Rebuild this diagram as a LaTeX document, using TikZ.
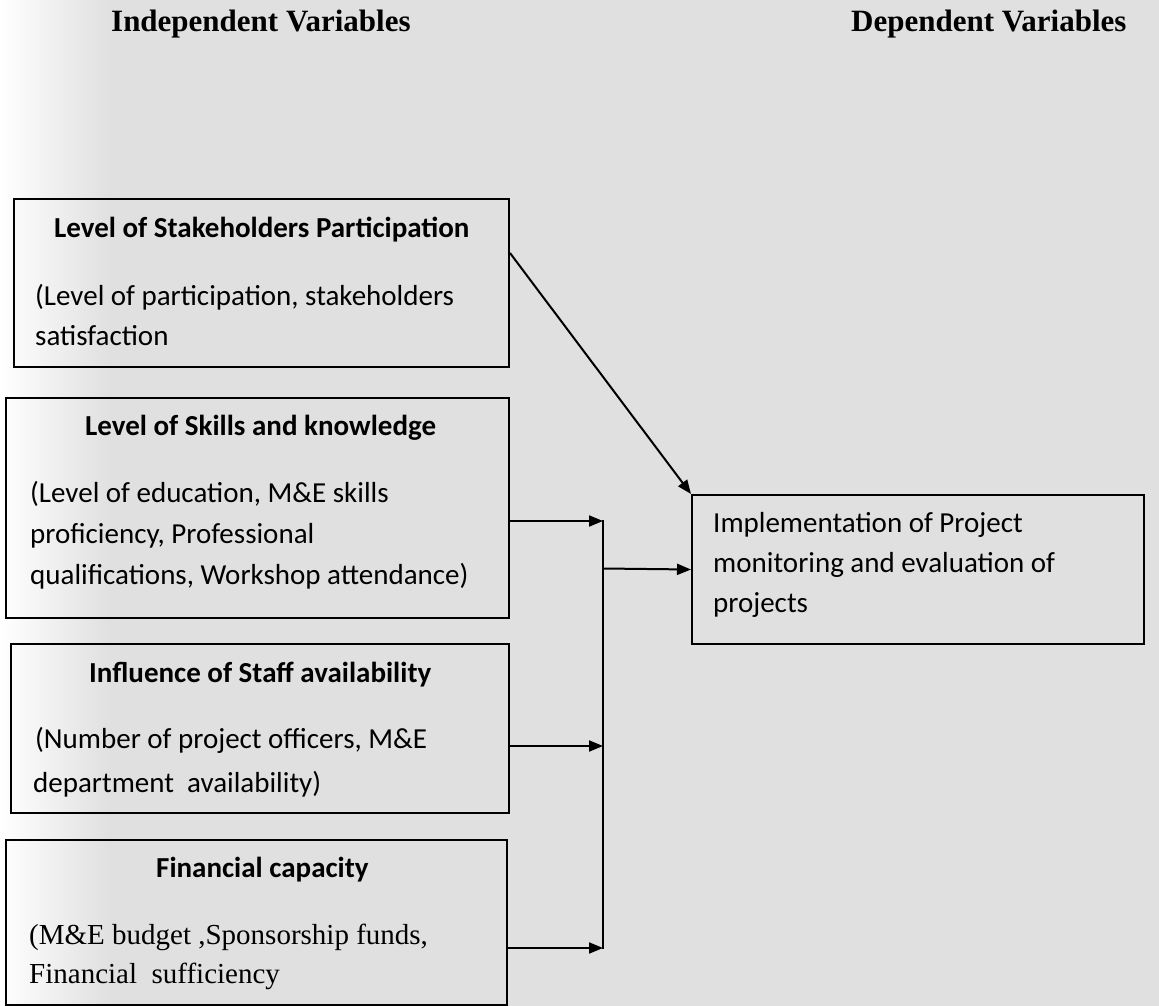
\documentclass[tikz,border=0pt]{standalone}
\usepackage{fontspec}
\setmainfont{Liberation Serif}
\newfontfamily\calib{Carlito}
\usetikzlibrary{arrows.meta,calc}
\definecolor{paper}{RGB}{224,224,224}
\tikzset{
  boxnode/.style={draw=black, line width=2pt, inner sep=0pt, anchor=north west},
  txt/.style={anchor=base west, inner sep=0pt, font=\calib\fontsize{29}{35}\selectfont},
  ttl/.style={anchor=base west, inner sep=0pt, font=\calib\bfseries\fontsize{29}{35}\selectfont},
  serif/.style={anchor=base west, inner sep=0pt, font=\rmfamily\fontsize{29}{35}\selectfont},
  head/.style={anchor=base west, inner sep=0pt, font=\rmfamily\bfseries\fontsize{31}{36}\selectfont},
  conn/.style={line width=2pt, -{Triangle[length=14pt,width=11pt]}},
  plain/.style={line width=2pt}
}
\begin{document}
\begin{tikzpicture}[x=1pt,y=-1pt]
\useasboundingbox (0,0) rectangle (1159,1006);
\fill[paper] (0,0) rectangle (1159,1006);
\shade[left color=white, right color=paper] (0,0) rectangle (110,1006);

% headings
\node[head] (h1) at (111,32) {Independent Variables};
\node[head] (h2) at (851,32) {Dependent Variables};

% boxes
\node[boxnode, minimum width=495.5pt, minimum height=168pt] (b1) at (12.5,198) {};
\node[boxnode, minimum width=503pt, minimum height=220pt] (b2) at (5,397) {};
\node[boxnode, minimum width=498pt, minimum height=169pt] (b3) at (10,643) {};
\node[boxnode, minimum width=500.6pt, minimum height=165pt] (b4) at (5.4,839) {};
\node[boxnode, minimum width=452pt, minimum height=149pt] (t) at (691,494) {};

% box 1 text
\node[ttl] (b1a) at (54,237) {Level of Stakeholders Participation};
\node[txt] (b1b) at (35,305) {(Level of participation, stakeholders};
\node[txt] (b1c) at (35,345) {satisfaction};

% box 2 text
\node[ttl] (b2a) at (85,435) {Level of Skills and knowledge};
\node[txt] (b2b) at (30,502) {(Level of education, M\&E skills};
\node[txt] (b2c) at (30,543) {proficiency, Professional};
\node[txt] (b2d) at (30,584) {qualifications, Workshop attendance)};

% box 3 text
\node[ttl] (b3a) at (89,682) {Influence of Staff availability};
\node[txt] (b3b) at (35,748) {(Number of project officers, M\&E};
\node[txt] (b3c) at (33,792) {department\ \ availability)};

% box 4 text
\node[ttl] (b4a) at (156,877) {Financial capacity};
\node[serif] (b4b) at (29,944) {(M\&E budget ,Sponsorship funds,};
\node[serif] (b4c) at (29,983) {Financial\ \ sufficiency};

% target text
\node[txt] (ta) at (713,532) {Implementation of Project};
\node[txt] (tb) at (713,572) {monitoring and evaluation of};
\node[txt] (tc) at (713,612) {projects};

% connectors
\coordinate (bus2) at (603,521);
\coordinate (bus3) at (603,746);
\coordinate (bus4) at (603,948);
\coordinate (busm) at (603,568.5);
\draw[conn] ([yshift=-55pt]b1.north east) -- (t.north west);
\draw[conn] (b2.east |- bus2) -- (bus2);
\draw[conn] (b3.east |- bus3) -- (bus3);
\draw[conn] (b4.east |- bus4) -- (bus4);
\draw[plain] ([yshift=1pt]bus2) -- ([yshift=-1pt]bus4);
\draw[conn] (busm) -- (t.west);
\end{tikzpicture}
\end{document}
